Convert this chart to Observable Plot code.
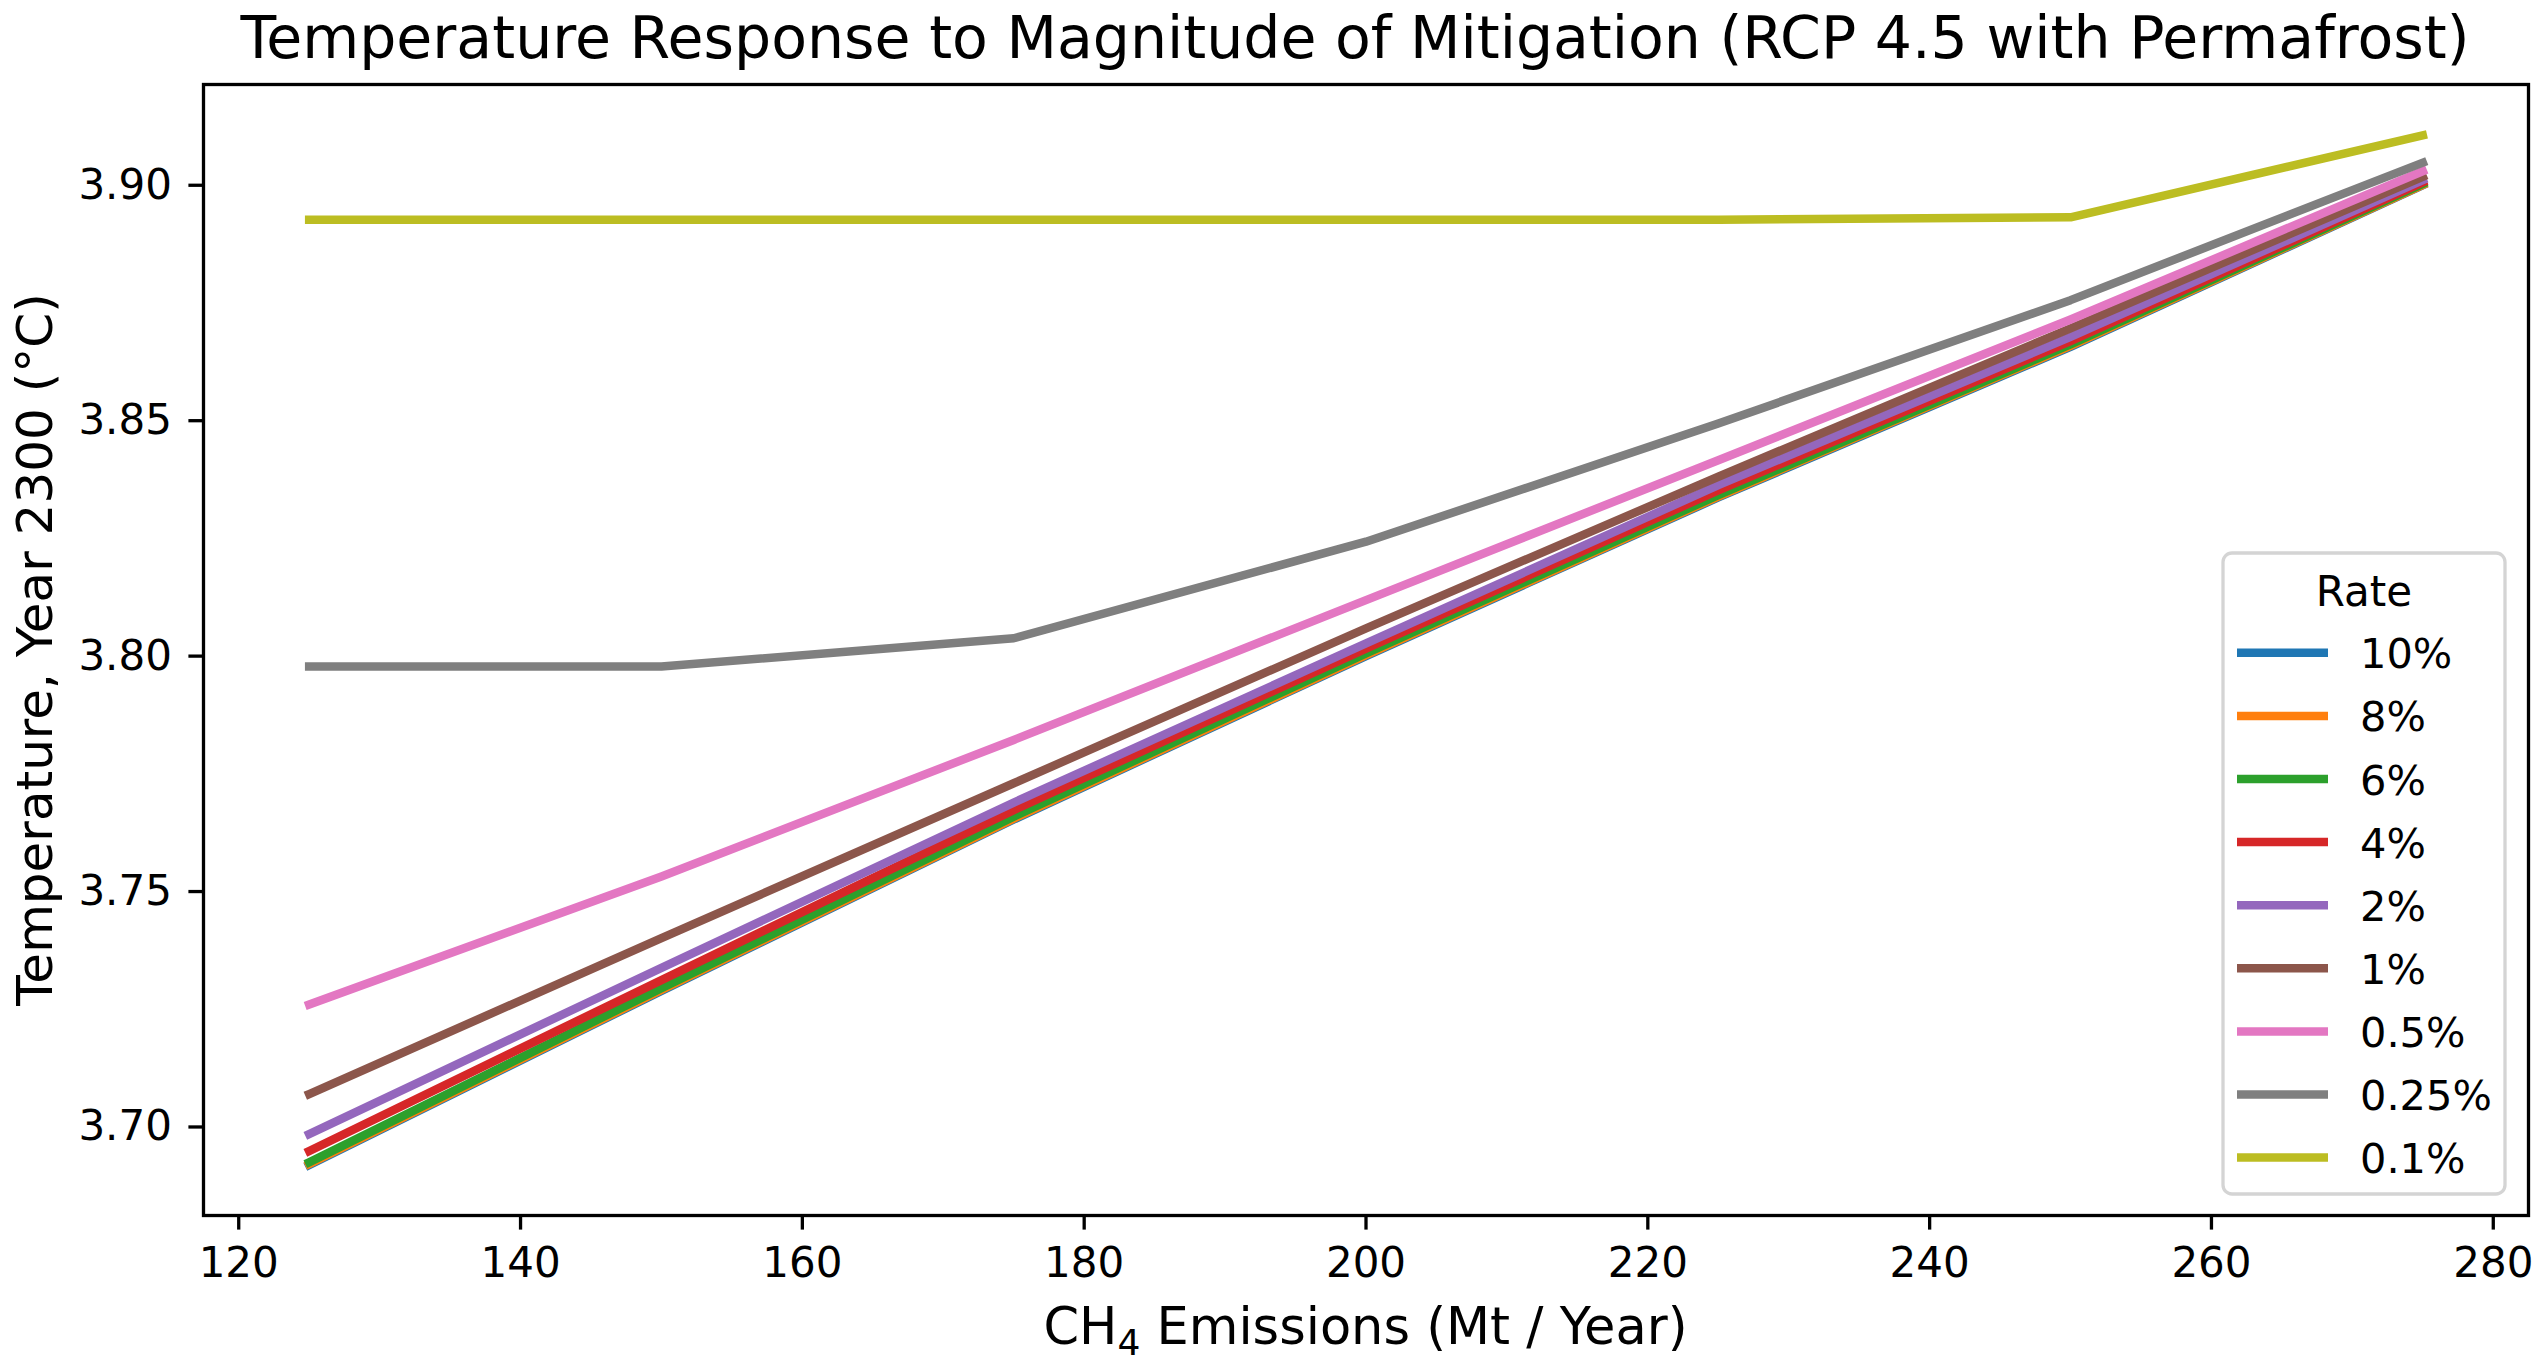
<!DOCTYPE html>
<html>
<head>
<meta charset="utf-8">
<script src="https://cdn.jsdelivr.net/npm/d3@7"></script>
<script src="https://cdn.jsdelivr.net/npm/@observablehq/plot@0.6"></script>
<style>
  html, body { margin: 0; padding: 0; background: #fff; }
  #chart { width: 2546px; height: 1370px; }
</style>
</head>
<body>
<div id="chart"></div>
<script>
// ---- Data ----
const emissions = [125, 150, 175, 200, 225, 250, 275];
const rates = ["10%", "8%", "6%", "4%", "2%", "1%", "0.5%", "0.25%", "0.1%"];
const rate10  = [3.6919, 3.7289, 3.7653, 3.8000, 3.8337, 3.8657, 3.9000];
const rate8   = [3.6921, 3.7291, 3.7655, 3.8002, 3.8339, 3.8659, 3.9001];
const rate6   = [3.6925, 3.7295, 3.7659, 3.8006, 3.8342, 3.8662, 3.9003];
const rate4   = [3.6949, 3.7312, 3.7673, 3.8016, 3.8352, 3.8669, 3.9006];
const rate2   = [3.6985, 3.7338, 3.7689, 3.8027, 3.8363, 3.8678, 3.9011];
const rate1   = [3.7070, 3.7401, 3.7730, 3.8059, 3.8381, 3.8696, 3.9018];
const rate05  = [3.7260, 3.7532, 3.7822, 3.8119, 3.8416, 3.8715, 3.9030];
const rate025 = [3.7978, 3.7978, 3.8038, 3.8243, 3.8494, 3.8756, 3.9048];
const rate01  = [3.8927, 3.8927, 3.8927, 3.8927, 3.8927, 3.8932, 3.9106];
const series = [rate10, rate8, rate6, rate4, rate2, rate1, rate05, rate025, rate01];
const colors = ["#1f77b4", "#ff7f0e", "#2ca02c", "#d62728", "#9467bd", "#8c564b", "#e377c2", "#7f7f7f", "#bcbd22"];
const xTicks = [120, 140, 160, 180, 200, 220, 240, 260, 280];
const yTicks = [3.70, 3.75, 3.80, 3.85, 3.90];
const titleText = "Temperature Response to Magnitude of Mitigation (RCP 4.5 with Permafrost)";
const yLabelText = "Temperature, Year 2300 (°C)";
const legendTitle = "Rate";

// long table built from the arrays
const data = [];
rates.forEach((r, i) => emissions.forEach((e, j) => data.push({rate: r, x: e, y: series[i][j]})));

const W = 2546, H = 1370;
const mL = 203, mR = 18, mT = 84, mB = 155;

const plot = Plot.plot({
  width: W, height: H,
  marginLeft: mL, marginRight: mR, marginTop: mT, marginBottom: mB,
  style: {fontFamily: "'DejaVu Sans', sans-serif", fontSize: "42px", background: "white", color: "black", overflow: "visible"},
  x: {domain: [117.5, 282.5], label: null},
  y: {domain: [3.6812, 3.9214], label: null},
  color: {domain: rates, range: colors},
  marks: [
    Plot.line(data, {x: "x", y: "y", z: "rate", stroke: "rate", strokeWidth: 8.5, strokeLinejoin: "round", strokeLinecap: "square"}),
    Plot.axisX({ticks: xTicks, tickSize: 14.6, tickPadding: 17, strokeWidth: 3.3, fontSize: 42, label: null}),
    Plot.axisY({ticks: yTicks, tickSize: 14.6, tickPadding: 17, strokeWidth: 3.3, fontSize: 42, tickFormat: d3.format(".2f"), label: null}),
    Plot.frame({stroke: "black", strokeWidth: 3.3})
  ]
});
document.getElementById("chart").appendChild(plot);

const svg = d3.select(plot);
const font = "'DejaVu Sans', sans-serif";

// Title
svg.append("text")
  .attr("x", 1355).attr("y", 58)
  .attr("text-anchor", "middle")
  .attr("font-family", font).attr("font-size", 58.5).attr("fill", "black")
  .text(titleText);

// X axis label with subscript
const xl = svg.append("text")
  .attr("x", (mL + W - mR) / 2).attr("y", 1344)
  .attr("text-anchor", "middle")
  .attr("font-family", font).attr("font-size", 51).attr("fill", "black");
xl.append("tspan").text("CH");
xl.append("tspan").attr("font-size", 36).attr("dy", 11).text("4");
xl.append("tspan").attr("dy", -11).text(" Emissions (Mt / Year)");

// Y axis label
svg.append("text")
  .attr("transform", `translate(52,${(mT + H - mB) / 2}) rotate(-90)`)
  .attr("text-anchor", "middle")
  .attr("font-family", font).attr("font-size", 50).attr("fill", "black")
  .text(yLabelText);

// Legend
const color = plot.scale("color");
const lg = svg.append("g");
lg.append("rect")
  .attr("x", 2223).attr("y", 553).attr("width", 282).attr("height", 641)
  .attr("rx", 9).attr("ry", 9)
  .attr("fill", "white").attr("fill-opacity", 0.8)
  .attr("stroke", "#d4d4d4").attr("stroke-width", 3.3);
lg.append("text")
  .attr("x", 2364).attr("y", 606)
  .attr("text-anchor", "middle")
  .attr("font-family", font).attr("font-size", 42).attr("fill", "black")
  .text(legendTitle);
rates.forEach((r, i) => {
  const cy = 652.8 + 63.1 * i;
  lg.append("line")
    .attr("x1", 2237).attr("x2", 2328).attr("y1", cy).attr("y2", cy)
    .attr("stroke", color.apply(r)).attr("stroke-width", 8.5);
  lg.append("text")
    .attr("x", 2360).attr("y", cy + 15.5)
    .attr("text-anchor", "start")
    .attr("font-family", font).attr("font-size", 41.5).attr("fill", "black")
    .text(r);
});
</script>
</body>
</html>
